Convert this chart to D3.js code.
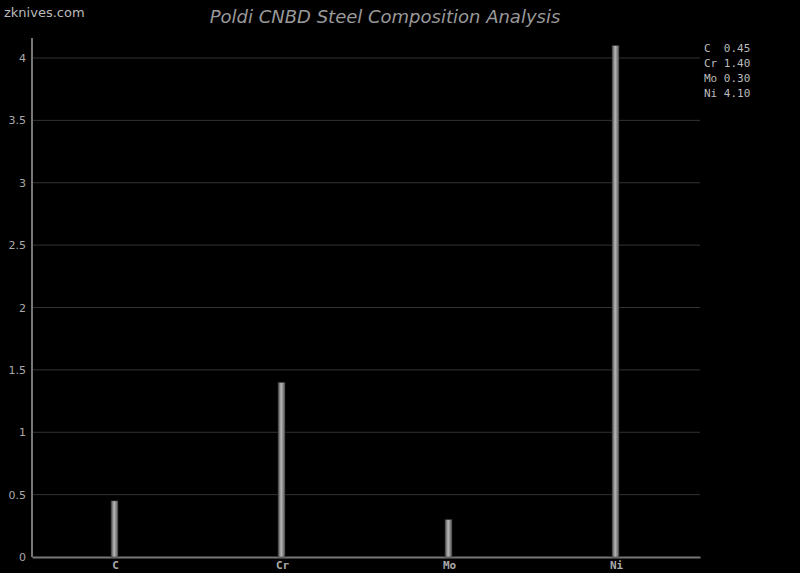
<!DOCTYPE html>
<html>
<head>
<meta charset="utf-8">
<script src="https://cdn.jsdelivr.net/npm/d3@7"></script>
<style>
  body { margin: 0; background: #000; }
  svg { display: block; }
</style>
</head>
<body>
<div id="chart"></div>
<script>
// Chart data
const elements = ["C", "Cr", "Mo", "Ni"];
const amounts = [0.45, 1.40, 0.30, 4.10];
const yTicks = [0, 0.5, 1, 1.5, 2, 2.5, 3, 3.5, 4];
const legendLabels = ["C  0.45", "Cr 1.40", "Mo 0.30", "Ni 4.10"];

const width = 800;
const height = 573;
const margin = {left: 32, right: 100, top: 58, bottom: 16};

const svg = d3.select("#chart")
  .append("svg")
  .attr("width", width)
  .attr("height", height)
  .style("background", "#000");

// bar shading, dark edges and a light middle
const grad = svg.append("defs").append("linearGradient")
  .attr("id", "barGrad")
  .attr("x1", "0%").attr("x2", "100%");
grad.append("stop").attr("offset", "0%").attr("stop-color", "#4a4a4a");
grad.append("stop").attr("offset", "45%").attr("stop-color", "#b8b8b8");
grad.append("stop").attr("offset", "100%").attr("stop-color", "#555");

const xScale = d3.scaleBand()
  .domain(elements)
  .range([margin.left, width - margin.right]);

const yScale = d3.scaleLinear()
  .domain([0, 4])
  .range([height - margin.bottom, margin.top]);

// gridlines
svg.append("g")
  .selectAll("line")
  .data(yTicks.filter(d => d > 0))
  .enter()
  .append("line")
  .attr("x1", margin.left)
  .attr("x2", width - margin.right)
  .attr("y1", d => yScale(d))
  .attr("y2", d => yScale(d))
  .attr("stroke", "#333")
  .attr("stroke-width", 1);

// y axis
const yAxis = svg.append("g")
  .attr("transform", `translate(${margin.left},0)`)
  .call(d3.axisLeft(yScale).tickValues(yTicks).tickFormat(d => String(d)).tickSize(0).tickPadding(6))
  .attr("font-family", "DejaVu Sans, sans-serif")
  .attr("font-size", "11px");
yAxis.select(".domain").remove();
yAxis.selectAll("text").attr("fill", "#aaa");
svg.append("line")
  .attr("x1", margin.left).attr("x2", margin.left)
  .attr("y1", 38).attr("y2", yScale(0))
  .attr("stroke", "#777").attr("stroke-width", 2);

// x axis
const xAxis = svg.append("g")
  .attr("transform", `translate(0,${yScale(0)})`)
  .call(d3.axisBottom(xScale).tickSize(0).tickPadding(4))
  .attr("font-family", "DejaVu Sans Mono, monospace")
  .attr("font-size", "11px")
  .attr("font-weight", "bold");
xAxis.select(".domain")
  .attr("stroke", "#777")
  .attr("stroke-width", 2);
xAxis.selectAll("text").attr("fill", "#aaa");

// bars
const barW = 7;
svg.selectAll("rect.bar")
  .data(amounts)
  .enter()
  .append("rect")
  .attr("class", "bar")
  .attr("x", (d, i) => xScale(elements[i]) + xScale.bandwidth() / 2 - barW / 2 - 1)
  .attr("y", d => yScale(d))
  .attr("width", barW)
  .attr("height", d => yScale(0) - yScale(d))
  .attr("fill", "url(#barGrad)")
  .attr("stroke", "#333")
  .attr("stroke-width", 0.5);

// legend
svg.append("g")
  .selectAll("text")
  .data(legendLabels)
  .enter()
  .append("text")
  .attr("x", 704)
  .attr("y", (d, i) => 52 + i * 15)
  .attr("fill", "#bbb")
  .attr("font-family", "DejaVu Sans Mono, monospace")
  .attr("font-size", "11px")
  .attr("xml:space", "preserve")
  .style("white-space", "pre")
  .text(d => d);

// title
svg.append("text")
  .attr("x", 385)
  .attr("y", 23)
  .attr("text-anchor", "middle")
  .attr("fill", "#999")
  .attr("font-family", "DejaVu Sans, sans-serif")
  .attr("font-style", "italic")
  .attr("font-size", "18px")
  .text("Poldi CNBD Steel Composition Analysis");

// watermark
svg.append("text")
  .attr("x", 4)
  .attr("y", 17)
  .attr("fill", "#bbb")
  .attr("font-family", "DejaVu Sans, sans-serif")
  .attr("font-size", "13px")
  .text("zknives.com");
</script>
</body>
</html>
